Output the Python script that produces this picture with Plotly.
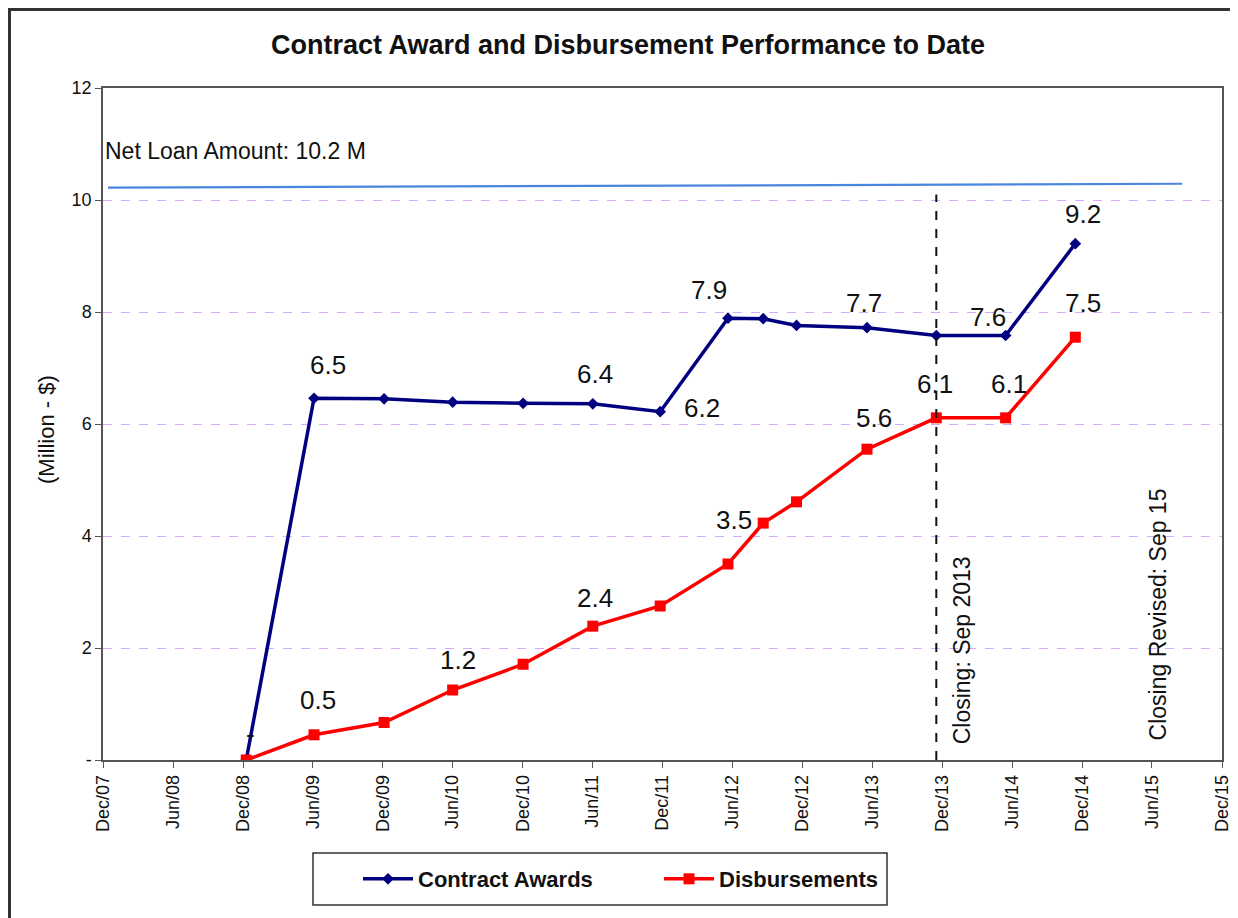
import plotly.graph_objects as go

# ---- data ----
dates = ["2008-12-09", "2009-06-04", "2009-12-04", "2010-06-01", "2010-12-02",
         "2011-06-02", "2011-11-25", "2012-05-20", "2012-08-20", "2012-11-15",
         "2013-05-18", "2013-11-15", "2014-05-15", "2014-11-13"]
contract_awards = [0.0, 6.46, 6.45, 6.39, 6.37, 6.36, 6.22, 7.89, 7.88, 7.76,
                   7.72, 7.58, 7.58, 9.22]
disbursements = [0.0, 0.45, 0.67, 1.25, 1.71, 2.39, 2.75, 3.50, 4.23, 4.61,
                 5.55, 6.11, 6.11, 7.55]
net_loan_dates = ["2007-12-14", "2015-08-19"]
net_loan_values = [10.22, 10.29]
closing_date = "2013-11-15"
closing_top = 10.1
revised_label_date = "2015-06-18"

tick_dates = ["2007-12-01", "2008-06-01", "2008-12-01", "2009-06-01", "2009-12-01",
              "2010-06-01", "2010-12-01", "2011-06-01", "2011-12-01", "2012-06-01",
              "2012-12-01", "2013-06-01", "2013-12-01", "2014-06-01", "2014-12-01",
              "2015-06-01", "2015-12-01"]
tick_labels = ["Dec/07", "Jun/08", "Dec/08", "Jun/09", "Dec/09", "Jun/10", "Dec/10",
               "Jun/11", "Dec/11", "Jun/12", "Dec/12", "Jun/13", "Dec/13", "Jun/14",
               "Dec/14", "Jun/15", "Dec/15"]
y_ticks = [0, 2, 4, 6, 8, 10, 12]
y_tick_labels = ["-", "2", "4", "6", "8", "10", "12"]

# data labels: (index, text, xshift, yshift)
award_labels = [(0, "-", 4, 26), (1, "6.5", 14, 33), (5, "6.4", 2, 30), (6, "6.2", 42, 4),
                (7, "7.9", -19, 28), (10, "7.7", -3, 25), (12, "7.6", -18, 19),
                (13, "9.2", 8, 30)]
disb_labels = [(1, "0.5", 4, 35), (3, "1.2", 5, 30), (5, "2.4", 2, 28), (7, "3.5", 6, 44),
               (10, "5.6", 7, 31), (11, "6.1", -1, 34), (12, "6.1", 3, 34), (13, "7.5", 8, 34)]

FONT = "Liberation Sans, Arial, sans-serif"
NAVY = "#000080"
RED = "#FF0000"
TXT = "#111111"

# page has an 8px body margin; plot area target: x 103..1222, y 88..760 in the window
OFF = 8
W, H = 1238 - OFF, 918 - OFF
PL, PT, PR, PB = 103, 88, 1222, 760


def px_x(px):
    return (px - PL) / (PR - PL)


def px_y(py):
    return (PB - py) / (PB - PT)


fig = go.Figure()
fig.add_trace(go.Scatter(x=net_loan_dates, y=net_loan_values, mode="lines",
                         line=dict(color="#4A86E0", width=2.2), showlegend=False,
                         hoverinfo="skip"))
fig.add_trace(go.Scatter(x=dates, y=contract_awards, mode="lines+markers",
                         name="<b>Contract Awards</b>",
                         line=dict(color=NAVY, width=3.5),
                         marker=dict(symbol="diamond", size=9, color=NAVY)))
fig.add_trace(go.Scatter(x=dates, y=disbursements, mode="lines+markers",
                         name="<b>Disbursements</b>",
                         line=dict(color=RED, width=3.5),
                         marker=dict(symbol="square", size=11, color=RED)))

annotations = []
for idx, txt, dx, dy in award_labels:
    annotations.append(dict(x=dates[idx], y=contract_awards[idx], text=txt, showarrow=False,
                            xshift=dx, yshift=dy, font=dict(size=26, color=TXT, family=FONT)))
for idx, txt, dx, dy in disb_labels:
    annotations.append(dict(x=dates[idx], y=disbursements[idx], text=txt, showarrow=False,
                            xshift=dx, yshift=dy, font=dict(size=26, color=TXT, family=FONT)))

annotations.append(dict(x=net_loan_dates[0], y=net_loan_values[0], text="Net Loan Amount: 10.2 M",
                        showarrow=False, xanchor="left", yanchor="bottom", yshift=22, xshift=-5,
                        font=dict(size=23, color=TXT, family=FONT)))
annotations.append(dict(x=closing_date, y=0, text="Closing: Sep 2013", textangle=-90,
                        showarrow=False, xanchor="center", yanchor="bottom", xshift=26, yshift=14,
                        font=dict(size=23, color=TXT, family=FONT)))
annotations.append(dict(x=revised_label_date, y=0, text="Closing Revised: Sep 15", textangle=-90,
                        showarrow=False, xanchor="center", yanchor="bottom", yshift=18,
                        font=dict(size=23, color=TXT, family=FONT)))
annotations.append(dict(xref="paper", yref="paper", x=px_x(46), y=px_y(430),
                        text="(Million - $)", textangle=-90, showarrow=False,
                        xanchor="center", yanchor="middle",
                        font=dict(size=22, color=TXT, family=FONT)))

shapes = [
    dict(type="line", xref="x", yref="y", x0=closing_date, x1=closing_date, y0=0, y1=closing_top,
         line=dict(color=TXT, width=2, dash="dash")),
    # legend box
    dict(type="rect", xref="paper", yref="paper",
         x0=px_x(313), x1=px_x(887), y0=px_y(905), y1=px_y(853),
         line=dict(color="#333", width=1.5), fillcolor="rgba(0,0,0,0)"),
    # outer frame
    dict(type="rect", xref="paper", yref="paper",
         x0=px_x(9.5), x1=px_x(1260), y0=px_y(940), y1=px_y(9.5),
         line=dict(color="#333", width=3), fillcolor="rgba(0,0,0,0)"),
]

fig.update_layout(
    width=W, height=H,
    margin=dict(l=PL - OFF, r=1238 - PR, t=PT - OFF, b=918 - PB, autoexpand=False),
    paper_bgcolor="white", plot_bgcolor="white",
    font=dict(family=FONT, color=TXT),
    title=dict(text="<b>Contract Award and Disbursement Performance to Date</b>",
               x=(628 - OFF) / W, xanchor="center", y=1 - (45 - OFF) / H, yanchor="middle",
               font=dict(size=27, color=TXT, family=FONT)),
    showlegend=True,
    legend=dict(orientation="h", x=px_x(358), xanchor="left",
                y=px_y(879), yanchor="middle",
                font=dict(size=22, color=TXT, family=FONT), bgcolor="rgba(0,0,0,0)",
                entrywidth=236, itemwidth=50),
    annotations=annotations,
    shapes=shapes,
    xaxis=dict(type="date", range=["2007-12-01", "2015-12-01"],
               tickmode="array", tickvals=tick_dates, ticktext=tick_labels,
               tickangle=-90, tickfont=dict(size=18, color=TXT, family=FONT),
               showgrid=False, showline=True, linecolor="#555", linewidth=1.5, mirror=True,
               ticks="outside", ticklen=6, tickcolor="#555", zeroline=False),
    yaxis=dict(range=[0, 12], tickmode="array", tickvals=y_ticks, ticktext=y_tick_labels,
               tickfont=dict(size=18, color=TXT, family=FONT),
               showgrid=True, gridcolor="#D9A8FF", griddash="dash", gridwidth=1,
               showline=True, linecolor="#555", linewidth=1.5, mirror=True,
               ticks="outside", ticklen=6, tickcolor="#555", zeroline=False),
)

fig.write_html("out.html")
